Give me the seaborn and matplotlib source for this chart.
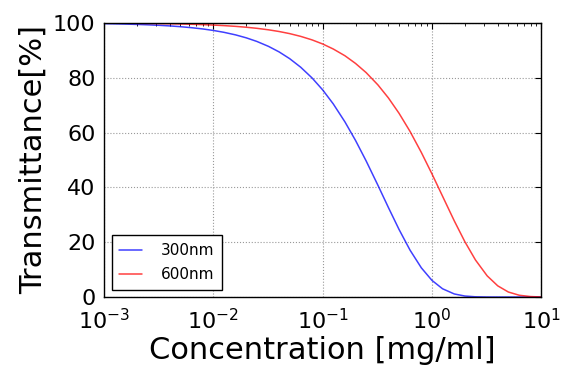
import matplotlib
matplotlib.use("Agg")
import matplotlib.pyplot as plt
import seaborn as sns
import pandas as pd
from matplotlib.ticker import LogLocator

concentration = [0.001, 0.00125, 0.0016, 0.002, 0.0025, 0.0032, 0.004, 0.005, 0.0063, 0.008,
                 0.01, 0.0125, 0.016, 0.02, 0.025, 0.032, 0.04, 0.05, 0.063, 0.08,
                 0.1, 0.125, 0.16, 0.2, 0.25, 0.32, 0.4, 0.5, 0.63, 0.8,
                 1.0, 1.25, 1.6, 2.0, 2.5, 3.2, 4.0, 5.0, 6.3, 8.0, 10.0]
t_300nm = [99.72, 99.65, 99.55, 99.44, 99.30, 99.11, 98.89, 98.61, 98.25, 97.79,
           97.24, 96.56, 95.62, 94.55, 93.24, 91.43, 89.41, 86.94, 83.83, 79.93,
           75.58, 70.47, 63.89, 57.12, 49.66, 40.83, 32.63, 24.66, 17.13, 10.65,
           6.08, 3.02, 1.13, 0.37, 0.09, 0.01, 0.0, 0.0, 0.0, 0.0, 0.0]
t_600nm = [99.92, 99.90, 99.87, 99.84, 99.80, 99.74, 99.68, 99.60, 99.50, 99.36,
           99.20, 99.00, 98.73, 98.41, 98.02, 97.47, 96.85, 96.08, 95.08, 93.80,
           92.31, 90.48, 88.01, 85.21, 81.87, 77.41, 72.61, 67.03, 60.43, 52.73,
           44.93, 36.79, 27.80, 20.19, 13.53, 7.73, 4.08, 1.83, 0.65, 0.17, 0.03]
series_names = ["300nm", "600nm"]
series_colors = ["#0000ff", "#ff0000"]

df = pd.DataFrame({
    "Concentration": concentration * 2,
    "Transmittance": t_300nm + t_600nm,
    "series": [series_names[0]] * len(concentration) + [series_names[1]] * len(concentration),
})

sns.set_style("white")
plt.rcParams["font.family"] = ["DejaVu Sans"]
plt.rcParams["text.color"] = "black"
plt.rcParams["axes.labelcolor"] = "black"
plt.rcParams["xtick.color"] = "black"
plt.rcParams["ytick.color"] = "black"

fig = plt.figure(figsize=(5.65, 3.69), dpi=100)
ax = fig.add_axes([0.184, 0.195, 0.774, 0.743])

sns.lineplot(data=df, x="Concentration", y="Transmittance", hue="series",
             palette=dict(zip(series_names, series_colors)), ax=ax,
             linewidth=1.1, alpha=0.75, estimator=None, sort=True)

ax.set_xscale("log")
ax.set_xlim(1e-3, 1e1)
ax.set_ylim(0, 100)
ax.set_yticks([0, 20, 40, 60, 80, 100])
ax.xaxis.set_major_locator(LogLocator(base=10, numticks=10))
ax.xaxis.set_minor_locator(LogLocator(base=10, subs=range(2, 10), numticks=100))

ax.grid(True, which="major", color="#999999", linestyle=":", linewidth=0.8)
for s in ax.spines.values():
    s.set_color("black")
    s.set_linewidth(1.0)
ax.tick_params(which="both", direction="in", top=True, right=True, colors="black",
               labelcolor="black")
ax.tick_params(which="major", length=4, width=0.8, labelsize=16)
ax.tick_params(axis="x", which="major", pad=8)
ax.tick_params(axis="y", which="major", pad=6)
ax.tick_params(which="minor", length=2, width=0.6)

ax.set_xlabel("Concentration [mg/ml]", fontsize=22, labelpad=2, color="black")
ax.set_ylabel("Transmittance[%]", fontsize=22, labelpad=4, color="black")

leg = ax.legend(loc="lower left", fontsize=11, frameon=True, fancybox=False,
                edgecolor="black", framealpha=1, handlelength=1.5,
                borderpad=0.5, labelspacing=0.6, handletextpad=1.2,
                borderaxespad=0, bbox_to_anchor=(0.018, 0.026))
leg.get_frame().set_linewidth(1.0)
for t in leg.get_texts():
    t.set_color("black")

fig.savefig("out.png", dpi=100)
